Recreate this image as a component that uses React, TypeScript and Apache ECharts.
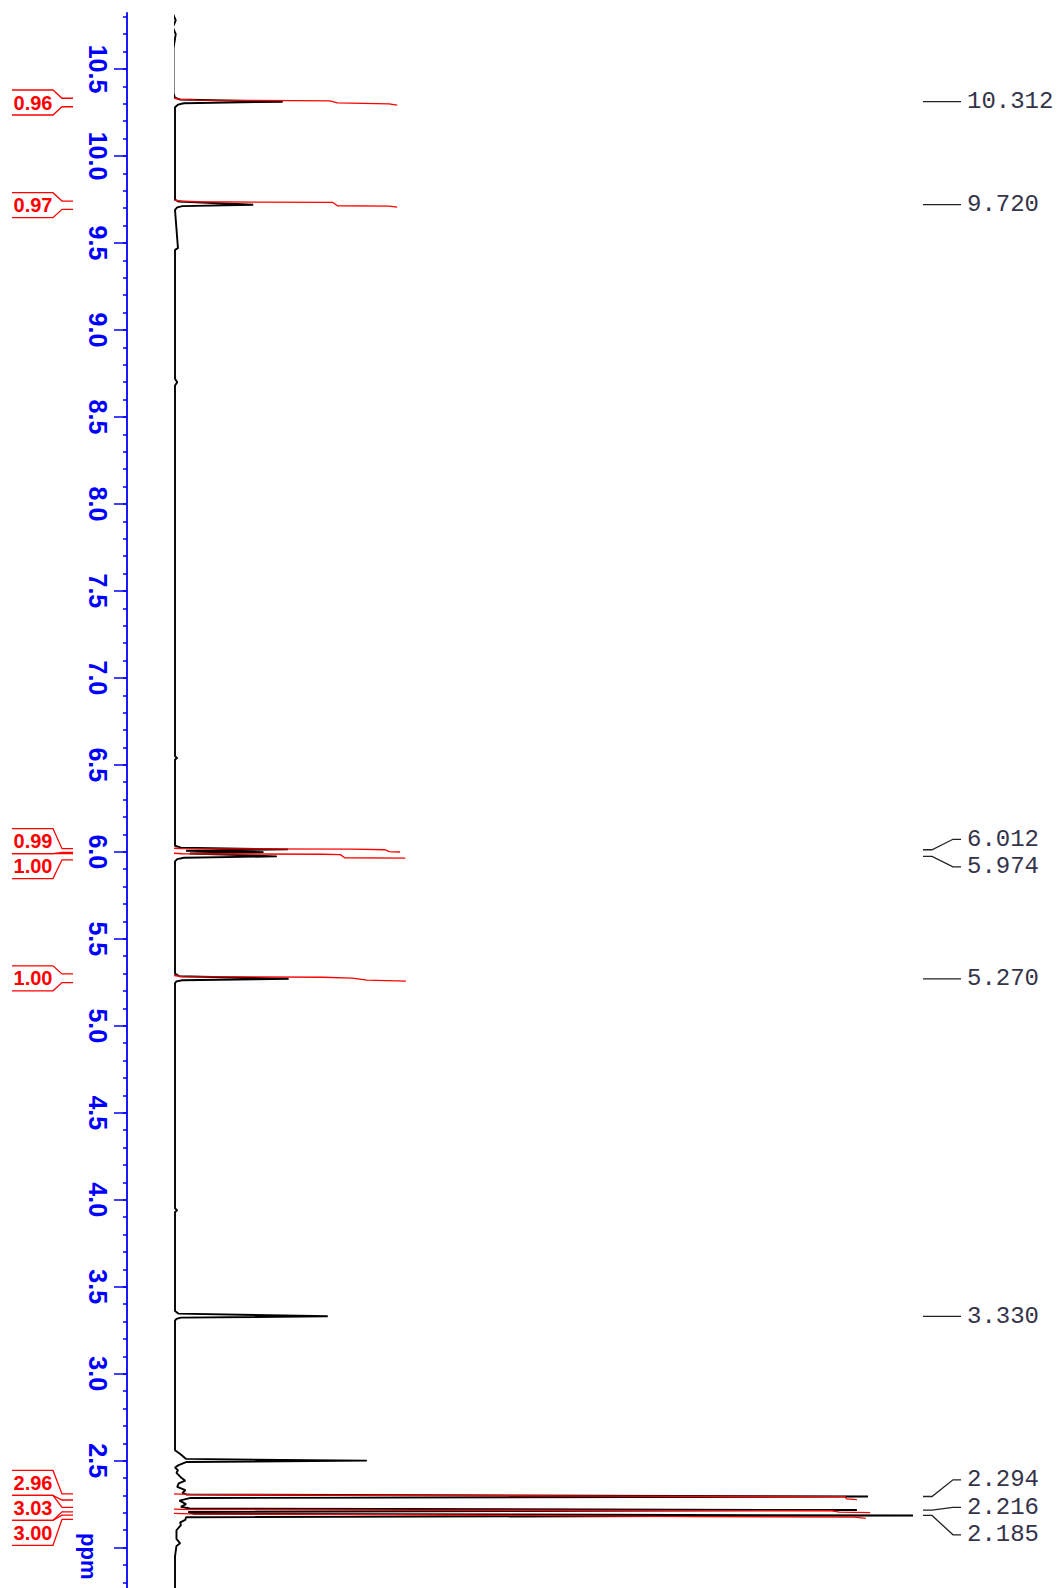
import React, { useEffect, useRef } from 'react';
import * as echarts from 'echarts';

// ppm axis range and ticks
const PPM_MAX = 10.822;
const PPM_MIN = 1.768;
const MAJOR_TICKS = [2.0, 2.5, 3.0, 3.5, 4.0, 4.5, 5.0, 5.5, 6.0, 6.5, 7.0, 7.5, 8.0, 8.5, 9.0, 9.5, 10.0, 10.5];
const LABELED_TICKS = [2.5, 3.0, 3.5, 4.0, 4.5, 5.0, 5.5, 6.0, 6.5, 7.0, 7.5, 8.0, 8.5, 9.0, 9.5, 10.0, 10.5];
const AXIS_NAME = 'ppm';

// spectrum trace: [intensity (tallest = 100), ppm]
const SPECTRUM: [number, number][] = [
  [-0.3, 10.82], [0.1, 10.78], [-0.3, 10.74], [0.1, 10.70], [-0.2, 10.62], [-0.2, 10.36],
  [0, 10.335], [0.6, 10.325], [14.6, 10.312], [1.2, 10.303], [0.4, 10.295], [0, 10.28],
  [0, 9.75], [0.5, 9.738], [10.6, 9.72], [1.0, 9.712], [0.3, 9.705], [0, 9.69],
  [0.4, 9.47], [0, 9.46], [0, 8.72], [0.3, 8.70], [0, 8.68], [0, 6.55], [0.3, 6.54], [0, 6.53],
  [0, 6.035], [0.8, 6.024], [15.3, 6.014], [1.5, 6.006], [12.0, 5.998], [2.0, 5.99],
  [13.8, 5.974], [1.2, 5.966], [0.3, 5.958], [0, 5.945],
  [0, 5.30], [0.6, 5.285], [15.4, 5.270], [1.0, 5.262], [0.2, 5.255], [0, 5.245],
  [0, 3.95], [0.3, 3.94], [0, 3.93],
  [0, 3.36], [0.5, 3.345], [20.7, 3.330], [0.8, 3.322], [0.2, 3.315], [0, 3.305],
  [0, 2.56], [0.8, 2.535], [1.5, 2.51], [26.0, 2.500], [1.5, 2.492], [0.5, 2.475], [0, 2.46],
  [0.4, 2.445], [0.2, 2.43], [0.9, 2.40], [1.4, 2.385], [0.5, 2.37], [0.3, 2.35],
  [1.4, 2.33], [1.0, 2.315], [1.6, 2.305], [93.9, 2.294], [2.0, 2.285], [0.6, 2.27],
  [1.5, 2.25], [0.8, 2.235], [2.0, 2.225], [92.4, 2.216], [1.8, 2.205], [2.5, 2.195],
  [100, 2.185], [1.5, 2.175], [1.4, 2.16], [0.7, 2.145], [0.8, 2.13], [0.2, 2.10],
  [0.2, 2.05], [0.7, 2.025], [0.2, 2.01], [0, 1.95], [0, 1.768],
];

// peak picking
const PEAK_PPM = [10.312, 9.720, 6.012, 5.974, 5.270, 3.330, 2.294, 2.216, 2.185];
const PEAK_LABELS = ['10.312', '9.720', '6.012', '5.974', '5.270', '3.330', '2.294', '2.216', '2.185'];

// integrals
const INTEGRAL_VALUES = ['0.96', '0.97', '0.99', '1.00', '1.00', '2.96', '3.03', '3.00'];
const INTEGRAL_RANGES: [number, number][] = [
  [10.332, 10.283], [9.741, 9.693], [6.018, 5.997], [5.990, 5.954],
  [5.298, 5.248], [2.309, 2.274], [2.232, 2.206], [2.187, 2.163],
];
// integral curves: [cumulative integral (same scale as intensity), ppm]
const INT_1: [number, number][] = [[-0.3, 10.333], [0.8, 10.326], [3, 10.321], [21, 10.317], [22, 10.305], [29, 10.300], [30.1, 10.292]];
const INT_2: [number, number][] = [[-0.3, 9.747], [0.8, 9.741], [3, 9.737], [21.4, 9.733], [22, 9.714], [29, 9.712], [30.1, 9.706]];
const INT_3: [number, number][] = [[-0.3, 6.021], [1, 6.018], [24, 6.016], [28.5, 6.012], [29, 6.001], [30.5, 5.999]];
const INT_4: [number, number][] = [[-0.3, 5.992], [1, 5.989], [20, 5.986], [22.4, 5.984], [23, 5.966], [31.2, 5.964]];
const INT_5: [number, number][] = [[-0.3, 5.290], [1, 5.283], [20, 5.279], [24, 5.274], [26, 5.262], [31.3, 5.257]];
const INT_6: [number, number][] = [[-0.3, 2.309], [2, 2.306], [20, 2.302], [60, 2.296], [90.8, 2.293], [91, 2.280], [92.4, 2.276]];
const INT_7: [number, number][] = [[-0.3, 2.222], [2, 2.219], [30, 2.216], [89, 2.212], [90, 2.204], [94.2, 2.201]];
const INT_8: [number, number][] = [[-0.3, 2.197], [2, 2.194], [30, 2.190], [70, 2.178], [92, 2.175], [93.6, 2.168]];
const INTEGRAL_CURVES = [INT_1, INT_2, INT_3, INT_4, INT_5, INT_6, INT_7, INT_8];

const BLUE = '#0000ff';
const RED = '#ff0000';

function spread(targets: number[], gap: number): number[] {
  const order = targets.map((_, i) => i).sort((a, b) => targets[a] - targets[b]);
  let clusters = order.map((i) => ({ items: [i], center: targets[i] }));
  let changed = true;
  while (changed) {
    changed = false;
    for (let k = 0; k < clusters.length - 1; k++) {
      const a = clusters[k];
      const b = clusters[k + 1];
      const aEnd = a.center + ((a.items.length - 1) * gap) / 2;
      const bStart = b.center - ((b.items.length - 1) * gap) / 2;
      if (bStart - aEnd < gap) {
        const items = a.items.concat(b.items);
        const center = items.reduce((s, i) => s + targets[i], 0) / items.length;
        clusters.splice(k, 2, { items, center });
        changed = true;
        break;
      }
    }
  }
  const out: number[] = new Array(targets.length);
  clusters.forEach((c) =>
    c.items.forEach((i, j) => {
      out[i] = c.center + (j - (c.items.length - 1) / 2) * gap;
    })
  );
  return out;
}

export default function App() {
  const ref = useRef<HTMLDivElement>(null);

  useEffect(() => {
    if (!ref.current) return;
    const chart = echarts.init(ref.current, null, { renderer: 'svg' });

    const minorTicks: number[] = [];
    for (let v = 18; v <= 108; v++) minorTicks.push(v / 10);

    const series: any[] = [
      {
        type: 'line',
        name: 'spectrum',
        data: SPECTRUM,
        showSymbol: false,
        clip: false,
        lineStyle: { color: '#000000', width: 1.9 },
        z: 3,
      },
      ...INTEGRAL_CURVES.map((c, i) => ({
        type: 'line',
        name: 'integral ' + INTEGRAL_VALUES[i],
        data: c,
        showSymbol: false,
        clip: false,
        lineStyle: { color: RED, width: 1.3 },
        z: 4,
      })),
    ];

    chart.setOption({
      animation: false,
      backgroundColor: '#ffffff',
      grid: { left: 175, right: 146, top: 13, bottom: 0 },
      xAxis: {
        type: 'value',
        min: 0,
        max: 100,
        show: false,
      },
      yAxis: [
        {
          type: 'value',
          min: PPM_MIN,
          max: PPM_MAX,
          position: 'left',
          offset: 48,
          axisLine: { show: false, onZero: false },
          axisTick: { show: true, customValues: minorTicks, length: 4, lineStyle: { color: BLUE, width: 1.5 } },
          axisLabel: { show: false },
          splitLine: { show: false },
        },
        {
          type: 'value',
          min: PPM_MIN,
          max: PPM_MAX,
          position: 'left',
          offset: 48,
          axisLine: { show: true, onZero: false, lineStyle: { color: BLUE, width: 1.8 } },
          axisTick: { show: true, customValues: MAJOR_TICKS, length: 13, lineStyle: { color: BLUE, width: 1.5 } },
          axisLabel: {
            show: true,
            customValues: LABELED_TICKS,
            rotate: -90,
            margin: 17,
            color: BLUE,
            fontSize: 25,
            fontWeight: 'bold',
            fontFamily: 'Liberation Sans',
            formatter: (v: number) => v.toFixed(1),
          },
          splitLine: { show: false },
        },
      ],
      series,
    });

    const yPix = (p: number) => chart.convertToPixel({ yAxisIndex: 0 }, p) as number;
    const graphic: any[] = [];

    // axis name
    graphic.push({
      type: 'text',
      x: 88,
      y: yPix(1.95),
      rotation: -Math.PI / 2,
      style: {
        text: AXIS_NAME,
        fill: BLUE,
        font: 'bold 22px "Liberation Sans"',
        align: 'center',
        verticalAlign: 'middle',
        textAlign: 'center',
        textVerticalAlign: 'middle',
      },
    });

    // peak labels
    const peakY = PEAK_PPM.map(yPix);
    const peakLabelY = spread(peakY, 27.5);
    PEAK_LABELS.forEach((lab, i) => {
      graphic.push({
        type: 'polyline',
        shape: { points: [[923, peakY[i]], [932, peakY[i]], [953, peakLabelY[i]], [961, peakLabelY[i]]] },
        style: { stroke: '#222222', lineWidth: 1.3, fill: 'none' },
      });
      graphic.push({
        type: 'text',
        x: 967,
        y: peakLabelY[i],
        style: {
          text: lab,
          fill: '#34344a',
          font: '24px "Liberation Mono"',
          align: 'left',
          verticalAlign: 'middle',
          textAlign: 'left',
          textVerticalAlign: 'middle',
        },
      });
    });

    // integral labels
    const intStart = INTEGRAL_RANGES.map((r) => yPix(r[0]));
    const intEnd = INTEGRAL_RANGES.map((r) => yPix(r[1]));
    const intCenter = intStart.map((s, i) => (s + intEnd[i]) / 2);
    const intLabelY = spread(intCenter, 25);
    INTEGRAL_VALUES.forEach((val, i) => {
      const top = intLabelY[i] - 12.5;
      const bot = intLabelY[i] + 12.5;
      graphic.push({
        type: 'polyline',
        shape: { points: [[73, intStart[i]], [62, intStart[i]], [53, top], [12, top]] },
        style: { stroke: RED, lineWidth: 1.3, fill: 'none' },
      });
      graphic.push({
        type: 'polyline',
        shape: { points: [[73, intEnd[i]], [62, intEnd[i]], [53, bot], [12, bot]] },
        style: { stroke: RED, lineWidth: 1.3, fill: 'none' },
      });
      graphic.push({
        type: 'text',
        x: 33,
        y: intLabelY[i],
        style: {
          text: val,
          fill: RED,
          font: 'bold 20px "Liberation Sans"',
          align: 'center',
          verticalAlign: 'middle',
          textAlign: 'center',
          textVerticalAlign: 'middle',
        },
      });
    });

    chart.setOption({ graphic });

    return () => {
      chart.dispose();
    };
  }, []);

  return (
    <div
      ref={ref}
      style={{ position: 'absolute', left: 0, top: 0, width: 1059, height: 1588, background: '#ffffff' }}
    />
  );
}
